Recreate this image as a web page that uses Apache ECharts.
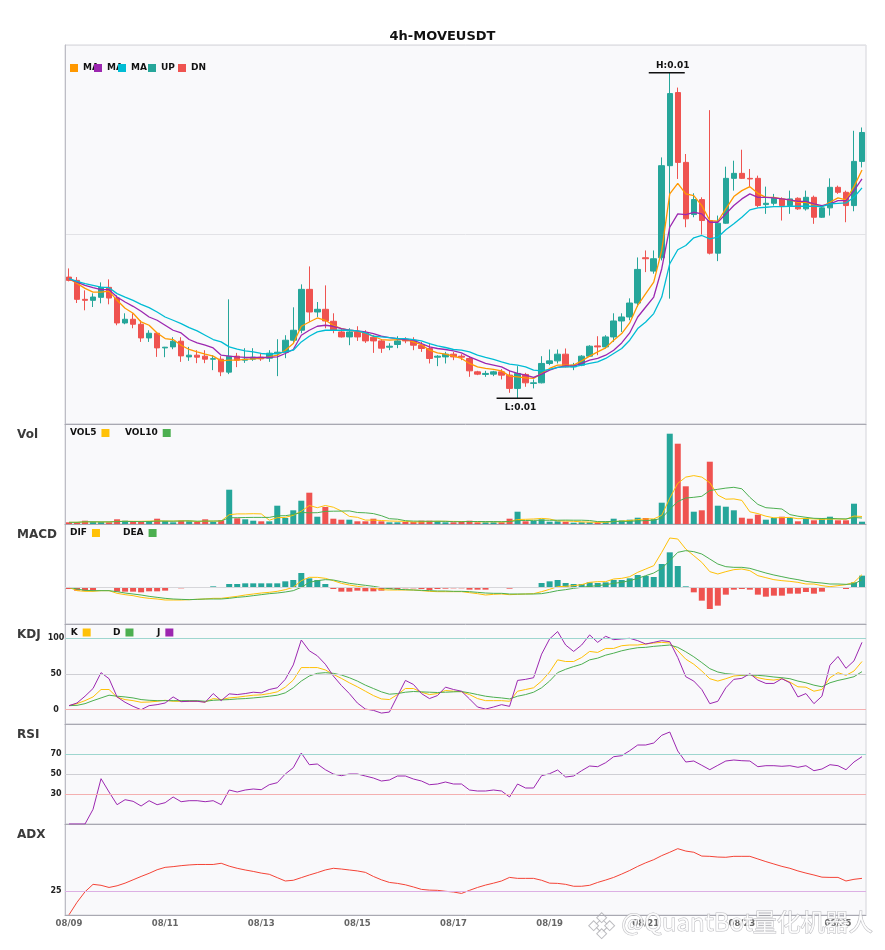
<!DOCTYPE html>
<html>
<head>
<meta charset="utf-8">
<title>4h-MOVEUSDT</title>
<script src="https://cdn.jsdelivr.net/npm/echarts@6/dist/echarts.min.js"></script>
<style>
html, body { margin: 0; padding: 0; background: #fff; }
#main { width: 885px; height: 950px; }
</style>
</head>
<body>
<div id="main"></div>
<script>
var FONT = 'DejaVu Sans';
var UP = '#26a69a', DOWN = '#ef5350';

// 4h candles from 08/09 00:00
var categories = [];
for (var t = 0; t < 100; t++) {
    var d = new Date(Date.UTC(2025, 7, 9) + t * 4 * 3600 * 1000);
    var p = function (n) { return (n < 10 ? '0' : '') + n; };
    categories.push(p(d.getUTCMonth() + 1) + '/' + p(d.getUTCDate()) + ' ' + p(d.getUTCHours()) + ':00');
}

var opens = [
    0.010973,0.01094,0.01075,0.01074,0.01077,0.01087,0.010763,0.010513,0.01055,0.0105,
    0.010363,0.01041,0.010263,0.010273,0.01033,0.010173,0.01019,0.01018,0.01015,0.01015,
    0.01002,0.01018,0.01014,0.01015,0.01017,0.01016,0.01021,0.01022,0.01034,0.01044,
    0.01085,0.010623,0.01065,0.01053,0.010423,0.010373,0.010423,0.010413,0.01037,0.010333,
    0.01027,0.010297,0.01035,0.01034,0.01029,0.010257,0.01017,0.010173,0.0102,0.01018,
    0.010157,0.010023,0.009997,0.01,0.010023,0.00999,0.009857,0.009997,0.009907,0.009913,
    0.010107,0.010133,0.0102,0.010073,0.01009,0.01018,0.010283,0.010273,0.010373,0.010533,
    0.010573,0.010713,0.011167,0.011033,0.011167,0.01209,0.012823,0.012123,0.0116,0.01175,
    0.01154,0.011213,0.011513,0.011963,0.012013,0.011963,0.011963,0.0117,0.011713,0.011757,
    0.01169,0.011763,0.011657,0.011773,0.011573,0.011667,0.011873,0.011823,0.01169,0.012133
];
var closes = [
    0.01094,0.01075,0.01074,0.010773,0.01087,0.010763,0.010513,0.01055,0.0105,0.010363,
    0.01041,0.010263,0.01027,0.01033,0.010183,0.01019,0.01017,0.01015,0.010155,0.010023,
    0.01018,0.01014,0.01015,0.01017,0.010153,0.01021,0.01022,0.01034,0.01044,0.01085,
    0.010623,0.01065,0.010533,0.01044,0.010373,0.010423,0.010373,0.010333,0.010333,0.01026,
    0.01028,0.010333,0.010333,0.01029,0.010257,0.010157,0.01018,0.0102,0.010173,0.01017,
    0.010033,0.01,0.010007,0.010023,0.00999,0.009857,0.010007,0.009913,0.009913,0.010107,
    0.010133,0.0102,0.010073,0.01009,0.01018,0.01028,0.010273,0.010373,0.010533,0.010573,
    0.010713,0.01105,0.011157,0.011157,0.01209,0.012813,0.012123,0.011557,0.01175,0.01154,
    0.011213,0.011513,0.011963,0.012013,0.011963,0.011957,0.01169,0.011713,0.011763,0.01169,
    0.011757,0.011657,0.011773,0.011573,0.011667,0.011873,0.011823,0.01169,0.012133,0.012423
];
var lows = [
    0.01093,0.010713,0.01064,0.010673,0.01071,0.0107,0.01049,0.0105,0.01046,0.010323,
    0.010323,0.010173,0.01017,0.01025,0.010123,0.010133,0.01011,0.01011,0.01004,0.00998,
    0.01,0.01007,0.010113,0.010133,0.010133,0.010123,0.00998,0.01016,0.01031,0.01041,
    0.010523,0.010573,0.01046,0.01041,0.010367,0.01029,0.010333,0.010313,0.010213,0.010213,
    0.01024,0.01026,0.01031,0.01024,0.010223,0.010107,0.01008,0.010107,0.01014,0.01014,
    0.009973,0.00999,0.009973,0.00998,0.009947,0.009813,0.009757,0.009873,0.009857,0.009907,
    0.01009,0.010107,0.010067,0.01004,0.01008,0.010173,0.01019,0.010257,0.010323,0.010423,
    0.01054,0.010673,0.011023,0.011007,0.01114,0.010757,0.011957,0.011473,0.011573,0.0114,
    0.0112,0.011133,0.011507,0.01184,0.011957,0.011873,0.011673,0.011607,0.01169,0.01154,
    0.011607,0.011647,0.01164,0.011507,0.011567,0.01159,0.011807,0.011523,0.011633,0.012073
];
var highs = [
    0.01106,0.010973,0.01084,0.01081,0.01092,0.01095,0.01079,0.01061,0.01061,0.01054,
    0.01044,0.010423,0.010273,0.01037,0.01037,0.010273,0.01024,0.01024,0.01019,0.01018,
    0.01075,0.010213,0.01026,0.01026,0.01021,0.01024,0.01035,0.01039,0.01067,0.0109,
    0.01108,0.010723,0.01089,0.01061,0.010457,0.01046,0.01048,0.01044,0.01039,0.01035,
    0.01031,0.01038,0.01037,0.01037,0.010323,0.010313,0.01019,0.010223,0.010223,0.0102,
    0.01018,0.010033,0.010033,0.010033,0.01005,0.010033,0.01008,0.010013,0.009947,0.01018,
    0.010247,0.010247,0.010257,0.010113,0.01019,0.01029,0.01038,0.01039,0.01061,0.01061,
    0.01076,0.01117,0.01124,0.01124,0.012173,0.013023,0.012873,0.012207,0.011813,0.011773,
    0.012647,0.01159,0.01208,0.01214,0.01225,0.012057,0.01199,0.01188,0.011807,0.011773,
    0.01184,0.011773,0.01184,0.01179,0.01169,0.011963,0.01189,0.01184,0.01244,0.012473
];
var ma5 = [
    0.010957,0.01091,0.01086,0.010823,0.010823,0.010833,0.01074,0.01066,0.01061,0.010523,
    0.01049,0.010413,0.010357,0.010347,0.01029,0.010247,0.010223,0.0102,0.01018,0.010133,
    0.01014,0.01014,0.010147,0.010153,0.010157,0.010173,0.01019,0.01024,0.010307,0.01048,
    0.010523,0.010563,0.01054,0.01049,0.010457,0.01044,0.01043,0.010413,0.01038,0.010347,
    0.01034,0.010347,0.010347,0.010323,0.010297,0.01024,0.010213,0.0102,0.01018,0.010157,
    0.010107,0.010073,0.010057,0.010047,0.010033,0.00998,0.009973,0.009963,0.009957,0.010007,
    0.010057,0.01009,0.01009,0.01009,0.010133,0.01018,0.010223,0.010263,0.01034,0.010407,
    0.010513,0.01069,0.010807,0.010923,0.01124,0.011807,0.011913,0.011807,0.01179,0.01169,
    0.01154,0.011533,0.011657,0.01178,0.01184,0.01188,0.011813,0.011773,0.011773,0.011757,
    0.011747,0.011723,0.011723,0.0117,0.01168,0.011723,0.011767,0.011747,0.01188,0.012047
];
var ma10 = [
    0.010957,0.010923,0.01089,0.010867,0.010847,0.010847,0.010773,0.010723,0.01068,0.01063,
    0.010573,0.01054,0.01049,0.01044,0.010413,0.010347,0.010313,0.01029,0.010263,0.01019,
    0.01018,0.010173,0.010167,0.010167,0.010167,0.010167,0.010173,0.010207,0.010247,0.01039,
    0.01044,0.01048,0.01049,0.01048,0.010457,0.01044,0.010433,0.010423,0.010407,0.01038,
    0.010367,0.010357,0.010347,0.01034,0.010307,0.010273,0.010257,0.010247,0.010233,0.010213,
    0.010173,0.01014,0.010107,0.01009,0.010073,0.010033,0.010007,0.00999,0.009967,0.01,
    0.01004,0.010067,0.010083,0.01008,0.010107,0.01014,0.010157,0.01019,0.01024,0.010313,
    0.010413,0.010573,0.010673,0.010773,0.011057,0.011473,0.011607,0.0116,0.011623,0.011607,
    0.011523,0.011523,0.011607,0.01169,0.011757,0.011807,0.011773,0.011773,0.011767,0.011757,
    0.011747,0.011733,0.011733,0.011707,0.01169,0.011707,0.01174,0.01174,0.01184,0.011957
];
var ma20 = [
    0.010957,0.01093,0.010907,0.01089,0.010873,0.010867,0.010807,0.010773,0.01074,0.0107,
    0.010667,0.010623,0.010573,0.01054,0.010507,0.010467,0.010433,0.01039,0.010347,0.010323,
    0.010273,0.01025,0.010233,0.010223,0.010207,0.0102,0.010207,0.010223,0.01024,0.010323,
    0.01038,0.010423,0.01044,0.01044,0.01044,0.01044,0.010433,0.010413,0.01038,0.010373,
    0.010367,0.010357,0.010357,0.010347,0.010333,0.010307,0.010283,0.010267,0.010247,0.01024,
    0.010223,0.01019,0.010167,0.010147,0.010123,0.0101,0.01009,0.010073,0.01004,0.010033,
    0.010047,0.010067,0.010073,0.010073,0.01009,0.010107,0.010123,0.010157,0.010207,0.010257,
    0.01034,0.010457,0.010523,0.010607,0.010773,0.011107,0.011247,0.01129,0.011367,0.01139,
    0.011357,0.011373,0.011447,0.011507,0.011573,0.011647,0.011667,0.011673,0.01168,0.01168,
    0.011683,0.011683,0.011683,0.011683,0.01168,0.011707,0.011713,0.011717,0.011773,0.011867
];
// volume in millions
var volume = [
    1.7,1.7,3.3,2.0,2.0,1.7,4.7,3.3,2.0,2.0,
    2.7,5.3,3.0,1.7,3.3,2.7,2.0,4.7,2.0,3.7,
    34.3,5.7,4.7,3.3,2.7,2.7,18.3,6.0,13.7,23.3,
    31.3,7.3,17.0,5.3,4.3,4.3,2.7,2.7,5.3,2.7,
    1.7,1.7,2.0,2.0,3.3,3.3,3.0,1.7,1.7,2.7,
    3.3,1.7,1.7,1.7,1.7,5.3,12.3,2.7,3.0,4.7,
    2.3,2.7,2.3,1.3,1.7,1.7,1.7,2.3,5.3,3.7,
    4.3,6.3,6.0,5.0,21.3,90.3,80.3,37.7,12.3,13.7,
    62.3,18.3,17.3,13.7,6.3,5.3,9.3,4.3,6.0,7.3,
    6.0,2.7,5.7,3.7,5.0,7.3,3.7,3.7,20.3,2.3
];
var vol5 = [
    1.7,1.7,2.2,2.2,2.1,2.1,2.7,2.7,2.7,2.7,
    2.9,3.1,3.0,2.9,3.2,3.2,2.5,2.9,2.9,3.0,
    9.3,10.1,10.1,10.3,10.1,3.8,6.3,6.6,8.7,12.8,
    18.5,16.3,18.5,16.8,13.0,7.6,6.7,3.9,3.9,3.5,
    3.0,2.8,2.7,2.0,2.1,2.5,2.7,2.7,2.6,2.5,
    2.5,2.2,2.2,2.2,2.0,2.4,4.5,4.7,5.0,5.6,
    5.0,3.1,3.0,2.7,2.1,1.9,1.7,1.7,2.5,2.9,
    3.5,4.4,5.1,5.1,8.6,25.8,40.6,46.9,48.4,46.9,
    41.3,28.9,24.8,25.1,23.6,12.2,10.4,7.8,6.2,6.4,
    6.6,5.3,5.5,5.1,4.6,4.9,5.1,4.7,8.0,7.5
];
var vol10 = [
    1.7,1.7,2.2,2.2,2.1,2.1,2.4,2.6,2.5,2.4,
    2.5,2.9,2.9,2.8,3.0,3.1,2.8,2.9,2.9,3.1,
    6.3,6.3,6.5,6.6,6.6,6.6,8.2,8.3,9.5,11.5,
    11.2,11.3,12.6,12.8,12.9,13.1,11.5,11.2,10.4,8.3,
    5.3,4.8,3.3,2.9,2.8,2.7,2.8,2.7,2.3,2.3,
    2.5,2.5,2.4,2.4,2.3,2.5,3.4,3.5,3.6,3.8,
    3.7,3.8,3.9,3.8,3.8,3.5,2.4,2.4,2.6,2.5,
    2.7,3.1,3.4,3.8,5.8,14.6,22.5,26.0,26.7,27.7,
    33.5,34.7,35.9,36.7,35.2,26.7,19.6,16.3,15.7,15.0,
    9.4,7.8,6.7,5.7,5.5,5.7,5.2,5.1,6.5,6.0
];
var dif = [
    0,-10e-6,-12e-6,-12e-6,-10e-6,-10e-6,-18e-6,-22e-6,-25e-6,-30e-6,
    -33e-6,-35e-6,-38e-6,-38e-6,-38e-6,-37e-6,-36e-6,-35e-6,-33e-6,-33e-6,
    -30e-6,-27e-6,-23e-6,-20e-6,-17e-6,-15e-6,-12e-6,-7e-6,0,20e-6,
    30e-6,30e-6,27e-6,20e-6,12e-6,7e-6,3e-6,0,-2e-6,-7e-6,
    -8e-6,-8e-6,-8e-6,-8e-6,-10e-6,-12e-6,-13e-6,-13e-6,-13e-6,-13e-6,
    -16e-6,-19e-6,-23e-6,-21e-6,-20e-6,-22e-6,-21e-6,-20e-6,-19e-6,-13e-6,
    -6e-6,2e-6,3e-6,5e-6,8e-6,15e-6,17e-6,17e-6,25e-6,27e-6,
    32e-6,45e-6,55e-6,65e-6,105e-6,148e-6,145e-6,115e-6,95e-6,75e-6,
    47e-6,40e-6,47e-6,53e-6,55e-6,50e-6,35e-6,29e-6,23e-6,20e-6,
    18e-6,15e-6,10e-6,10e-6,5e-6,2e-6,5e-6,8e-6,15e-6,38e-6
];
var dea = [
    0,-5e-6,-9e-6,-10e-6,-10e-6,-10e-6,-13e-6,-17e-6,-20e-6,-23e-6,
    -27e-6,-30e-6,-33e-6,-35e-6,-36e-6,-37e-6,-36e-6,-35e-6,-35e-6,-35e-6,
    -33e-6,-30e-6,-28e-6,-25e-6,-22e-6,-19e-6,-17e-6,-14e-6,-10e-6,0,
    15e-6,20e-6,23e-6,22e-6,17e-6,12e-6,9e-6,6e-6,3e-6,-1e-6,
    -4e-6,-6e-6,-7e-6,-8e-6,-9e-6,-10e-6,-11e-6,-11e-6,-12e-6,-12e-6,
    -13e-6,-15e-6,-17e-6,-18e-6,-18e-6,-20e-6,-20e-6,-20e-6,-20e-6,-19e-6,
    -15e-6,-10e-6,-7e-6,-3e-6,0,3e-6,5e-6,8e-6,12e-6,15e-6,
    20e-6,27e-6,35e-6,43e-6,57e-6,80e-6,105e-6,110e-6,107e-6,100e-6,
    85e-6,70e-6,62e-6,60e-6,60e-6,57e-6,50e-6,43e-6,37e-6,32e-6,
    27e-6,23e-6,18e-6,15e-6,13e-6,10e-6,10e-6,9e-6,10e-6,23e-6
];
var macdHist = [
    -5e-6,-10e-6,-10e-6,-10e-6,-2e-6,-2e-6,-13e-6,-13e-6,-13e-6,-15e-6,
    -12e-6,-12e-6,-10e-6,-2e-6,-3e-6,-2e-6,-1e-6,0,3e-6,1e-6,
    10e-6,10e-6,12e-6,12e-6,12e-6,12e-6,12e-6,18e-6,22e-6,43e-6,
    27e-6,22e-6,10e-6,-5e-6,-13e-6,-13e-6,-10e-6,-12e-6,-12e-6,-10e-6,
    -5e-6,-5e-6,-3e-6,-3e-6,-5e-6,-8e-6,-5e-6,-4e-6,-3e-6,-3e-6,
    -7e-6,-7e-6,-7e-6,-2e-6,-2e-6,-4e-6,-1e-6,0,1e-6,13e-6,
    18e-6,22e-6,13e-6,10e-6,10e-6,15e-6,13e-6,15e-6,22e-6,22e-6,
    27e-6,37e-6,34e-6,31e-6,70e-6,105e-6,64e-6,3e-6,-15e-6,-40e-6,
    -65e-6,-55e-6,-22e-6,-7e-6,-5e-6,-7e-6,-22e-6,-28e-6,-25e-6,-25e-6,
    -19e-6,-19e-6,-14e-6,-19e-6,-13e-6,-2e-6,0,-5e-6,15e-6,35e-6
];
var kLine = [
    5.7,8.5,12.7,17.9,28.3,28.3,17.5,14.2,12.7,10.4,
    10.8,11.8,13.2,11.8,11.8,11.8,11.8,10.8,15.6,14.2,
    16.5,17.5,18.9,20.3,20.8,22.6,25,31.6,41.5,59,
    59,59,55.7,49.5,43.9,37.7,32.1,25.9,19.8,15.1,
    14.2,21.2,29.7,29.7,24.5,21.2,22.6,26.9,25.9,25,
    21.2,15.6,12.7,12.7,12.7,11.8,25.9,28.3,30.7,40.1,
    52.8,69.8,67.5,67.5,73.1,81.6,80.2,85.8,85.8,89.6,
    90.6,90.6,92,93.4,94.3,93.4,82.5,70.8,63.7,54.2,
    43.4,40.1,43.4,47.2,48.1,49.5,44.8,42.5,41.5,43.4,
    38.7,32.1,31.6,25.9,28.3,44.8,51.9,48.1,54.2,67.5
];
var dLine = [
    5.7,6.1,8.5,12.7,16.5,20.3,18.9,17.9,16.5,14.2,
    13.2,12.7,12.7,12.7,12.7,12.7,12.7,11.8,13.2,13.7,
    14.2,15.1,15.6,16.5,17.5,18.9,20.3,23.6,30.7,40.1,
    47.2,50.9,51.9,50.9,48.6,44.8,40.1,34.4,29.7,25,
    21.7,22.6,24.5,25.5,25,24.5,24.1,24.5,25,25.5,
    23.6,21.2,18.9,17.5,16.5,15.1,18.9,21.2,24.5,30.7,
    40.1,51.9,56.6,60.4,63.7,69.8,72.2,76.4,79.2,82.5,
    84.9,86.8,87.3,88.7,89.6,90.6,87.3,81.1,74.1,66,
    57.5,52.8,50.5,49.5,48.6,48.6,48.1,47.2,45.8,44.8,
    43.4,40.1,37.7,34.4,32.1,37.7,41,43.4,46.2,53.3
];
var jLine = [
    5.7,9.4,18.9,29.7,51.9,43.4,17.9,10.4,4.7,0,
    5.7,7.1,9.4,17.9,11.3,11.8,11.8,10.4,22.6,12.7,
    22.2,21.2,22.6,24.5,23.6,28.3,30.7,42.5,62.7,97.6,
    82.5,75.5,63.7,47.2,34,22.6,9.4,0.9,-0.9,-4.7,
    -3.3,18.9,41,35.4,22.6,15.6,19.8,31.6,28.3,25.9,
    15.1,3.8,0.9,3.8,7.1,4.7,41,42.5,44.8,77.8,
    99.1,109.4,90.6,81.6,90.6,104.7,94.3,102.8,98.1,99.1,
    100,96.7,92,94.3,96.7,95.3,73.1,46.2,40.1,28.3,
    8.5,11.8,30.7,42.5,43.9,50.5,41.5,36.8,36.8,43.4,
    37.7,17.9,22.6,8.5,18.9,62.3,74.5,58,68.4,94.3
];
var rsi = [
    0,0,0,14.7,45.3,32,19.3,24.3,22.7,18,
    23.3,19.3,21.3,27,22.3,23.3,23.3,22.3,23.3,19.3,
    34,32,34,35,34.3,39.3,41.3,50,56.3,71,
    59.3,60,54.3,50,48.3,50,50,48,46,43,
    44,48,48,45,43,39.3,40,42,40,40,
    34,33,33,34,33,27,40,36,36,48.3,
    50.3,54,47,48,53.3,58,57.3,61.3,67.3,68.3,
    73.3,79,79,81,88.7,92,73,62,63,58.7,
    54.3,58.7,63,64,63.3,63,57.3,58.3,58.3,57.7,
    58.3,56.7,58.3,53.3,55,59.3,58.3,54.3,62,67.3
];
var adx = [
    15.1,20.3,24.7,27.8,27.4,26.5,27.2,28.3,29.7,31.1,
    32.4,33.9,34.9,35.2,35.6,35.9,36.1,36.1,36.1,36.6,
    35.4,34.5,33.8,33.2,32.5,32,30.6,29.2,29.5,30.6,
    31.7,32.7,33.8,34.5,34.2,33.8,33.4,32.8,31.1,29.7,
    28.6,28.2,27.6,26.7,25.7,25.4,25.3,24.9,24.6,24,
    25.3,26.5,27.5,28.3,29.2,30.7,30.3,30.3,30.3,29.5,
    28.3,28.2,27.8,27,27,27.4,28.6,29.6,30.7,32.1,
    33.6,35.3,36.8,38.1,39.8,41.2,42.7,41.7,41.2,39.6,
    39.5,39.2,39.1,39.5,39.5,39.5,38.4,37.3,36.3,35.3,
    34.5,33.4,32.5,31.7,30.8,30.7,30.7,29.2,29.9,30.3
];

var myChart = echarts.init(document.getElementById('main'));

var candles = opens.map(function (o, i) { return [o, closes[i], lows[i], highs[i]]; });
var volBars = volume.map(function (v, i) {
    return { value: v, itemStyle: { color: closes[i] >= opens[i] ? UP : DOWN } };
});
var histBars = macdHist.map(function (v) {
    return { value: v, itemStyle: { color: v >= 0 ? UP : DOWN } };
});
var hiIdx = highs.indexOf(Math.max.apply(null, highs));
var loIdx = lows.indexOf(Math.min.apply(null, lows));

// panel layout
var tops = [45, 424, 524, 624, 724, 824];
var heights = [379, 100, 100, 100, 100, 91];

var grids = [], xAxes = [], yAxes = [];
for (var g = 0; g < 6; g++) {
    grids.push({
        left: 65, right: 19, top: tops[g], height: heights[g],
        show: true, backgroundColor: '#f9f9fb', borderColor: '#d4d4da', borderWidth: 1
    });
    xAxes.push({
        type: 'category', gridIndex: g, data: categories, boundaryGap: true,
        axisTick: { show: false },
        axisLine: { show: true, onZero: false, lineStyle: { color: '#a9a9b2' } },
        splitLine: { show: false },
        axisLabel: {
            show: g === 5, interval: 11, margin: 4,
            color: '#666', fontWeight: 'bold', fontSize: 8.5, fontFamily: FONT,
            formatter: function (v) { return v.slice(0, 5); }
        }
    });
}

function showOnly(levels) {
    return function (v) {
        for (var k = 0; k < levels.length; k++) {
            if (Math.abs(v - levels[k]) < 1e-6) return String(levels[k]);
        }
        return '';
    };
}
var sideLabel = { color: '#222', fontWeight: 'bold', fontSize: 8, fontFamily: FONT, align: 'center', margin: 9 };
function yAxis(g, extra) {
    return Object.assign({
        type: 'value', gridIndex: g,
        axisTick: { show: false },
        axisLine: { show: true, lineStyle: { color: '#bdbdc5' } },
        axisLabel: { show: false },
        splitLine: { show: false }
    }, extra);
}
yAxes.push(yAxis(0, { min: 0.0095, max: 0.0133, interval: 0.0019,
    splitLine: { show: true, lineStyle: { color: '#e2e2e6' } } }));
yAxes.push(yAxis(1, { min: 0, max: 100 }));
yAxes.push(yAxis(2, { min: -0.00011, max: 0.00019 }));
yAxes.push(yAxis(3, { min: -20, max: 120, interval: 10,
    axisLabel: Object.assign({ show: true, formatter: showOnly([0, 50, 100]) }, sideLabel) }));
yAxes.push(yAxis(4, { min: 0, max: 100, interval: 10,
    axisLabel: Object.assign({ show: true, formatter: showOnly([30, 50, 70]) }, sideLabel) }));
yAxes.push(yAxis(5, { min: 15, max: 53, interval: 1,
    axisLabel: Object.assign({ show: true, formatter: showOnly([25]) }, sideLabel) }));

function refLines(levels, colors) {
    return {
        silent: true, symbol: ['none', 'none'], label: { show: false },
        data: levels.map(function (v, k) {
            return { yAxis: v, lineStyle: { color: colors[k], width: 1, type: 'solid' } };
        })
    };
}
function line(name, data, color, g, width) {
    return {
        name: name, type: 'line', data: data, xAxisIndex: g, yAxisIndex: g,
        color: color, showSymbol: false, symbol: 'none',
        lineStyle: { color: color, width: width || 1 }, z: 3
    };
}

var TEAL_REF = '#9ed6cf', GRAY_REF = '#cfcfd4', PINK_REF = '#f4b0b0';

var kdjK = line('K', kLine, '#ffc107', 3);
kdjK.markLine = refLines([100, 50, 0], [TEAL_REF, GRAY_REF, PINK_REF]);
var rsiLine = line('RSI', rsi, '#9c27b0', 4);
rsiLine.markLine = refLines([70, 50, 30], [TEAL_REF, GRAY_REF, PINK_REF]);
var adxLine = line('ADX', adx, '#f44336', 5);
adxLine.markLine = refLines([25], ['#dcb0e4']);
var difLine = line('DIF', dif, '#ffc107', 2);
difLine.markLine = refLines([0], ['#d6d6da']);

var series = [
    {
        name: 'KLINE', type: 'candlestick', data: candles, xAxisIndex: 0, yAxisIndex: 0,
        barWidth: 6,
        itemStyle: { color: UP, color0: DOWN, borderColor: UP, borderColor0: DOWN, borderWidth: 1 },
        markPoint: {
            symbol: 'rect', symbolSize: [36, 1.5], symbolOffset: [-3, 0],
            itemStyle: { color: '#111' },
            label: { show: true, color: '#111', fontWeight: 'bold', fontSize: 9, fontFamily: FONT, offset: [6, 0] },
            data: [
                { coord: [hiIdx, highs[hiIdx]], label: { position: 'top', distance: 2, formatter: 'H:' + highs[hiIdx].toFixed(2) } },
                { coord: [loIdx, lows[loIdx]], label: { position: 'bottom', distance: 4, formatter: 'L:' + lows[loIdx].toFixed(2) } }
            ]
        }
    },
    line('MA5', ma5, '#ff9800', 0, 1.3),
    line('MA10', ma10, '#9c27b0', 0, 1.3),
    line('MA20', ma20, '#00bcd4', 0, 1.3),
    { name: 'UP', type: 'line', data: [], color: UP, xAxisIndex: 0, yAxisIndex: 0 },
    { name: 'DN', type: 'line', data: [], color: DOWN, xAxisIndex: 0, yAxisIndex: 0 },
    { name: 'Vol', type: 'bar', data: volBars, xAxisIndex: 1, yAxisIndex: 1, barWidth: 6 },
    line('VOL5', vol5, '#ffc107', 1),
    line('VOL10', vol10, '#4caf50', 1),
    { name: 'MACD', type: 'bar', data: histBars, xAxisIndex: 2, yAxisIndex: 2, barWidth: 6 },
    difLine,
    line('DEA', dea, '#4caf50', 2),
    kdjK,
    line('D', dLine, '#4caf50', 3),
    line('J', jLine, '#9c27b0', 3),
    rsiLine,
    adxLine
];

function legendItem(name, left, top, align, textWidth, fmt) {
    var ts = { fontSize: 9, fontWeight: 'bold', color: '#111', fontFamily: FONT };
    if (textWidth) ts.width = textWidth;
    var l = {
        data: [name], left: left, top: top, padding: 0, itemGap: 0,
        itemWidth: 8, itemHeight: 8, icon: 'rect', align: align,
        selectedMode: false, textStyle: ts
    };
    if (fmt) l.formatter = fmt;
    return l;
}
var legends = [
    legendItem('MA5', 70, 63.5, 'left', null, 'MA'),
    legendItem('MA10', 94, 63.5, 'left', null, 'MA'),
    legendItem('MA20', 118, 63.5, 'left', null, 'MA'),
    legendItem('UP', 148, 63.5, 'left'),
    legendItem('DN', 178, 63.5, 'left'),
    legendItem('VOL5', 70, 428.5, 'right', 26.7),
    legendItem('VOL10', 125, 428.5, 'right', 33),
    legendItem('DIF', 70, 528.5, 'right', 22),
    legendItem('DEA', 123, 528.5, 'right', 25),
    legendItem('K', 70.7, 628, 'right', 11.3),
    legendItem('D', 113, 628, 'right', 13),
    legendItem('J', 157, 628, 'right', 13)
];

var panelNames = ['Vol', 'MACD', 'KDJ', 'RSI', 'ADX'];
var graphics = panelNames.map(function (n, k) {
    return {
        type: 'text', left: 17, top: tops[k + 1] + 5,
        style: { text: n, font: 'bold 12px "DejaVu Sans"', fill: '#3a3a3a' }
    };
});

// watermark: outlined text with a small diamond logo
var wmStyle = { fill: 'rgba(255,255,255,0.85)', stroke: 'rgba(160,160,165,0.7)', lineWidth: 1 };
var logoParts = [[0, 0, 5], [-8, 0, 3.5], [8, 0, 3.5], [0, -8, 3.5], [0, 8, 3.5]];
graphics.push({
    type: 'group', left: 588, top: 912, z: 100,
    children: logoParts.map(function (q) {
        return {
            type: 'rect', x: 12 + q[0], y: 12 + q[1], rotation: Math.PI / 4,
            shape: { x: -q[2], y: -q[2], width: 2 * q[2], height: 2 * q[2] },
            style: wmStyle
        };
    })
});
graphics.push({
    type: 'text', left: 621, top: 909, z: 100,
    style: Object.assign({ text: '@QuantBot量化机器人', font: '24px "Noto Sans CJK SC"' }, wmStyle)
});

var option = {
    animation: false,
    backgroundColor: '#ffffff',
    title: {
        text: '4h-MOVEUSDT', left: 'center', top: 25,
        textStyle: { fontSize: 13, fontWeight: 'bold', color: '#111', fontFamily: FONT }
    },
    legend: legends,
    grid: grids,
    xAxis: xAxes,
    yAxis: yAxes,
    graphic: graphics,
    series: series
};

myChart.setOption(option);
</script>
</body>
</html>
